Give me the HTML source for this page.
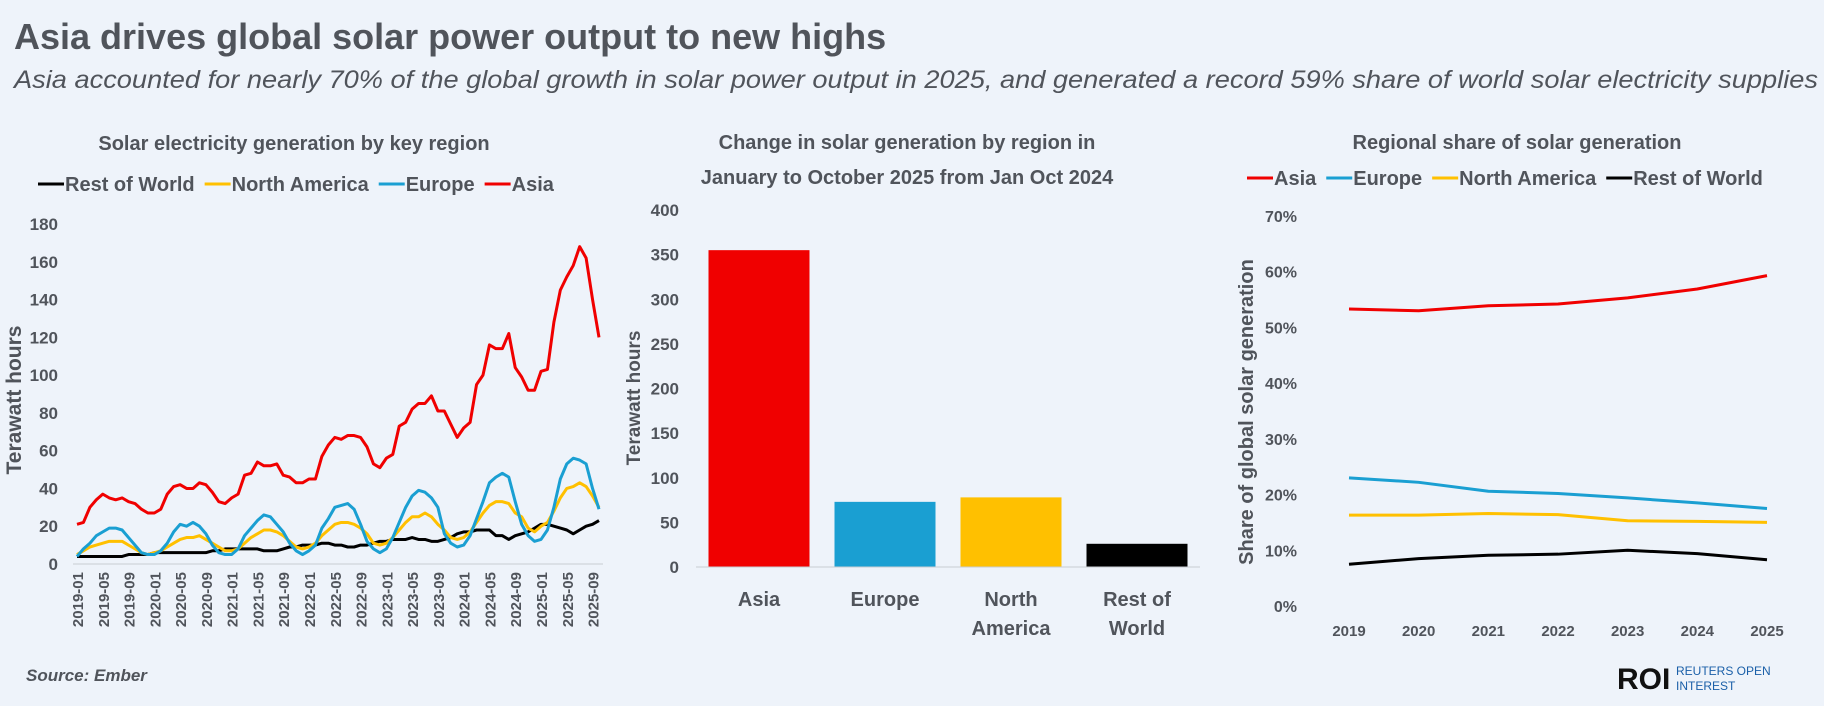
<!DOCTYPE html>
<html><head><meta charset="utf-8">
<style>
body{margin:0;background:#eef3fa;}
svg{display:block;font-family:"Liberation Sans",sans-serif;}
.t{fill:#50545b;font-weight:bold;}
</style></head><body>
<svg id="s" width="1824" height="706" viewBox="0 0 1824 706">
<rect width="1824" height="706" fill="#eef3fa"/>
<text x="14" y="49" class="t" font-size="36">Asia drives global solar power output to new highs</text>
<text x="14" y="88" fill="#50545b" font-size="25" font-style="italic" textLength="1804" lengthAdjust="spacingAndGlyphs">Asia accounted for nearly 70% of the global growth in solar power output in 2025, and generated a record 59% share of world solar electricity supplies</text>
<g id="c1"></g>
<g id="c2"></g>
<g id="c3"></g>
<text x="26" y="681" fill="#50545b" font-size="17" font-weight="bold" font-style="italic">Source:  Ember</text>
<g>
<text x="1617" y="689" fill="#111" font-size="30" font-weight="bold">ROI</text>
<text x="1676" y="675" fill="#1a5fa8" font-size="12">REUTERS OPEN</text>
<text x="1676" y="690" fill="#1a5fa8" font-size="12">INTEREST</text>
</g>
</svg>
<script>
const NS="http://www.w3.org/2000/svg";
function mk(p,tag,a,txt){const e=document.createElementNS(NS,tag);for(const k in a)e.setAttribute(k,a[k]);if(txt!==undefined)e.textContent=txt;p.appendChild(e);return e;}

// ---- Chart 1 data ----
const c1Asia=[21,22,30,34,37,35,34,35,33,32,29,27,27,29,37,41,42,40,40,43,42,38,33,32,35,37,47,48,54,52,52,53,47,46,43,43,45,45,57,63,67,66,68,68,67,62,53,51,56,58,73,75,82,85,85,89,81,81,74,67,72,75,95,100,116,114,114,122,104,99,92,92,102,103,128,145,152,158,168,162,140,120];
const c1Europe=[4,8,11,15,17,19,19,18,14,10,6,5,5,7,11,17,21,20,22,20,16,10,6,5,5,8,15,19,23,26,25,21,17,11,7,5,7,10,19,24,30,31,32,29,21,12,8,6,8,14,22,30,36,39,38,35,30,16,11,9,10,15,24,33,43,46,48,46,33,21,15,12,13,18,30,45,53,56,55,53,40,29];
const c1NA=[5,7,9,10,11,12,12,12,10,8,6,5,6,7,9,11,13,14,14,15,13,11,9,7,7,8,11,14,16,18,18,17,15,12,9,8,9,11,15,18,21,22,22,21,19,16,11,10,11,14,18,22,25,25,27,25,21,18,14,13,14,17,22,27,31,33,33,32,27,25,19,17,20,22,28,35,40,41,43,41,36,30];
const c1Row=[4,4,4,4,4,4,4,4,5,5,5,5,6,6,6,6,6,6,6,6,6,7,7,8,8,8,8,8,8,7,7,7,8,9,9,10,10,10,11,11,10,10,9,9,10,10,11,12,12,13,13,13,14,13,13,12,12,13,14,16,17,17,18,18,18,15,15,13,15,16,17,19,21,21,20,19,18,16,18,20,21,23];
const c1Ticks=[0,20,40,60,80,100,120,140,160,180];
const c1StartYear=2019;

// ---- Chart 2 data ----
const c2Cats=[["Asia"],["Europe"],["North","America"],["Rest of","World"]];
const c2Vals=[355,73,78,26];
const c2Ticks=[0,50,100,150,200,250,300,350,400];

// ---- Chart 3 data ----
const c3Years=["2019","2020","2021","2022","2023","2024","2025"];
const c3Asia=[53.3,53.0,53.9,54.2,55.3,56.9,59.3];
const c3Europe=[23.0,22.2,20.6,20.2,19.4,18.5,17.5];
const c3NA=[16.3,16.3,16.6,16.4,15.3,15.2,15.0];
const c3Row=[7.5,8.5,9.1,9.3,10.0,9.4,8.3];
const c3Ticks=[0,10,20,30,40,50,60,70];

const RED="#f00000",BLUE="#1a9fd2",YEL="#ffc000",BLK="#000";

function legend(g,items,x,y){
  items.forEach(it=>{
    const li=mk(g,"g",{});
    
    
    mk(li,"line",{x1:x,x2:x+26,y1:y-7,y2:y-7,stroke:it[1],"stroke-width":3});
    const t=mk(li,"text",{x:x+27,y:y,class:"t","font-size":20},it[0]);
    x+=27+t.getComputedTextLength()+10;
  });
}

// Chart 1
(function(){
  const g=document.getElementById("c1");
  const x0=77,x1=599,y0=564,y1=224,vmax=180;
  const X=i=>x0+(x1-x0)*i/(c1Asia.length-1);
  const Y=v=>y0-(y0-y1)*v/vmax;
  mk(g,"text",{x:294,y:150,class:"t","font-size":20,"text-anchor":"middle"},"Solar electricity generation by key region");
  legend(g,[["Rest of World",BLK],["North America",YEL],["Europe",BLUE],["Asia",RED]],38,191);
  c1Ticks.forEach(v=>{const t=mk(g,"text",{x:58,y:Y(v)+6,class:"t","font-size":17,"text-anchor":"end"},v);
    });
  mk(g,"line",{x1:x0-4,x2:x1+4,y1:y0,y2:y0,stroke:"#c8ccd2","stroke-width":1});
  const yt=mk(g,"text",{transform:"translate(21,400) rotate(-90)",class:"t","font-size":21,"text-anchor":"middle"},"Terawatt hours");
  
  for(let i=0;i<c1Asia.length;i+=4){
    const yr=c1StartYear+Math.floor(i/12),m=(i%12)+1;
    const t=mk(g,"text",{transform:`translate(${X(i)+6},572) rotate(-90)`,class:"t","font-size":15,"text-anchor":"end"},yr+"-"+String(m).padStart(2,"0"));
    
  }
  [[c1Row,BLK,"rest-of-world-line"],[c1NA,YEL,"north-america-line"],[c1Europe,BLUE,"europe-line"],[c1Asia,RED,"asia-line"]].forEach(s=>{
    const p=mk(g,"polyline",{points:s[0].map((v,i)=>X(i)+","+Y(v)).join(" "),fill:"none",stroke:s[1],"stroke-width":3,"stroke-linejoin":"round"});
    
    
  });
})();

// Chart 2
(function(){
  const g=document.getElementById("c2");
  const x0=696,x1=1200,y0=567,y1=210,vmax=400;
  const Y=v=>y0-(y0-y1)*v/vmax;
  const band=(x1-x0)/c2Vals.length,bw=101;
  mk(g,"text",{x:907,y:149,class:"t","font-size":20,"text-anchor":"middle"},"Change in solar generation by region in");
  mk(g,"text",{x:907,y:184,class:"t","font-size":20,"text-anchor":"middle"},"January to October 2025 from Jan Oct 2024");
  c2Ticks.forEach(v=>{const t=mk(g,"text",{x:679,y:Y(v)+6,class:"t","font-size":17,"text-anchor":"end"},v);
    });
  const yt=mk(g,"text",{transform:"translate(640,398) rotate(-90)",class:"t","font-size":19,"text-anchor":"middle"},"Terawatt hours");
  
  const cols=[RED,BLUE,YEL,BLK];
  c2Vals.forEach((v,i)=>{
    const cx=x0+band*(i+0.5);
    const r=mk(g,"rect",{x:cx-bw/2,y:Y(v),width:bw,height:y0-Y(v),fill:cols[i]});
    
    
    c2Cats[i].forEach((l,j)=>{const t=mk(g,"text",{x:cx,y:606+j*29,class:"t","font-size":20,"text-anchor":"middle"},l);
      });
  });
  mk(g,"line",{x1:x0,x2:x1,y1:y0,y2:y0,stroke:"#c8ccd2","stroke-width":1});
})();

// Chart 3
(function(){
  const g=document.getElementById("c3");
  const x0=1349,x1=1767,y0=606,y1=216,vmax=70;
  const X=i=>x0+(x1-x0)*i/(c3Years.length-1);
  const Y=v=>y0-(y0-y1)*v/vmax;
  mk(g,"text",{x:1517,y:149,class:"t","font-size":20,"text-anchor":"middle"},"Regional share of solar generation");
  legend(g,[["Asia",RED],["Europe",BLUE],["North America",YEL],["Rest of World",BLK]],1247,185);
  c3Ticks.forEach(v=>{const t=mk(g,"text",{x:1297,y:Y(v)+6,class:"t","font-size":16,"text-anchor":"end"},v+"%");
    });
  const yt=mk(g,"text",{transform:"translate(1253,412) rotate(-90)",class:"t","font-size":20,"text-anchor":"middle"},"Share of global solar generation");
  
  c3Years.forEach((y,i)=>{const t=mk(g,"text",{x:X(i),y:636,class:"t","font-size":15,"text-anchor":"middle"},y);
    });
  [[c3Row,BLK,"rest-of-world-share-line"],[c3NA,YEL,"north-america-share-line"],[c3Europe,BLUE,"europe-share-line"],[c3Asia,RED,"asia-share-line"]].forEach(s=>{
    const p=mk(g,"polyline",{points:s[0].map((v,i)=>X(i)+","+Y(v)).join(" "),fill:"none",stroke:s[1],"stroke-width":3,"stroke-linejoin":"round"});
    
    
  });
})();
</script>
</body></html>
